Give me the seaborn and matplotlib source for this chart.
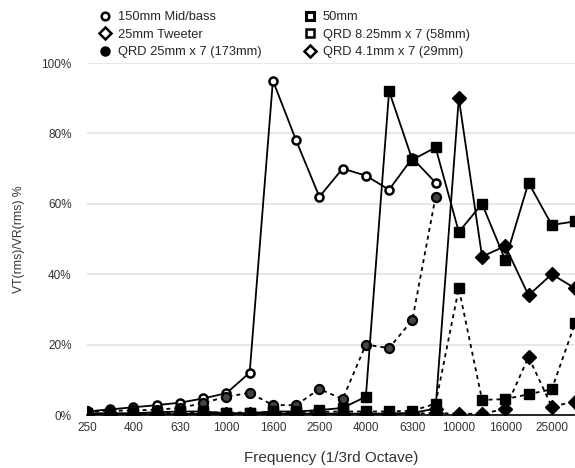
import numpy as np
import pandas as pd
import matplotlib
matplotlib.use("Agg")
import matplotlib.pyplot as plt
import seaborn as sns
from matplotlib.lines import Line2D

nan = np.nan
freqs = ['250', '315', '400', '500', '630', '800', '1000', '1250', '1600', '2000', '2500',
         '3150', '4000', '5000', '6300', '8000', '10000', '12500', '16000', '20000', '25000', '31500']
mid_bass = [1.0, 1.6, 2.2, 2.8, 3.5, 4.7, 6.2, 12, 95, 78, 62, 70, 68, 64, 73, 66,
            nan, nan, nan, nan, nan, nan]
fifty_mm = [0.5, 0.5, 0.5, 0.8, 1.0, 1.0, 0.5, 0.5, 1.0, 1.0, 1.4, 2.0, 5.2, 92, 72.5, 76,
            52, 60, 44, 66, 54, 55]
tweeter = [0.2, 0.2, 0.2, 0.2, 0.3, 0.3, 0.4, 0.4, 0.4, 0.4, 0.4, 0.4, 0.4, 0.4, 0.6, 1.8,
           90, 45, 48, 34, 40, 36]
qrd_25 = [1.0, 1.2, 1.3, 1.5, 2.0, 3.4, 5.2, 6.3, 2.8, 2.8, 7.4, 4.5, 20, 19, 27, 62,
          nan, nan, nan, nan, nan, nan]
qrd_825 = [0.3, 0.3, 0.4, 0.5, 0.6, 0.7, 0.7, 0.7, 0.8, 0.8, 0.9, 1.0, 1.0, 1.0, 1.2, 3.2,
           36, 4.3, 4.5, 5.9, 7.3, 26]
qrd_41 = [0.2, 0.2, 0.2, 0.2, 0.2, 0.3, 0.3, 0.3, 0.3, 0.3, 0.3, 0.3, 0.3, 0.3, 0.4, 0.6,
          0.3, 0.4, 1.7, 16.5, 2.4, 3.8]
tick_labels = ['250', '400', '630', '1000', '1600', '2500', '4000', '6300', '10000', '16000', '25000']

dot = (0, (2.2, 2.2))
# name, values, plot style, legend style
series = [
    ("150mm Mid/bass", mid_bass,
     dict(marker='o', mfc='white', mew=1.8, ms=5.8, ls='-'),
     dict(marker='o', mfc='white', mew=1.8, ms=5.5)),
    ("25mm Tweeter", tweeter,
     dict(marker='D', mfc='black', mew=1, ms=7.5, ls='-'),
     dict(marker='D', mfc='white', mew=1.8, ms=5.8)),
    ("QRD 25mm x 7 (173mm)", qrd_25,
     dict(marker='o', mfc='#444444', mew=1.6, ms=6.5, ls=dot),
     dict(marker='o', mfc='black', mew=1, ms=6.5)),
    ("50mm", fifty_mm,
     dict(marker='s', mfc='black', mew=1, ms=6.8, ls='-'),
     dict(marker='s', mfc='white', mew=2.2, ms=5.8)),
    ("QRD 8.25mm x 7 (58mm)", qrd_825,
     dict(marker='s', mfc='black', mew=1, ms=6.8, ls=dot),
     dict(marker='s', mfc='white', mew=1.8, ms=6.2)),
    ("QRD 4.1mm x 7 (29mm)", qrd_41,
     dict(marker='D', mfc='black', mew=1, ms=7.5, ls=dot),
     dict(marker='D', mfc='white', mew=1.8, ms=5.8)),
]

sns.set_theme(style="white")
plt.rcParams['font.family'] = ['Liberation Sans', 'DejaVu Sans']

fig = plt.figure(figsize=(5.75, 4.68), dpi=100)
ax = fig.add_axes([87 / 575, 1 - 415 / 468, 1 - 87 / 575, (415 - 63) / 468])

x = np.arange(len(freqs))
for name, vals, st, _ in series:
    df = pd.DataFrame({'x': x, 'y': vals}).dropna()
    sns.lineplot(data=df, x='x', y='y', ax=ax, color='black', linewidth=1.3,
                 linestyle=st['ls'], marker=st['marker'], markerfacecolor=st['mfc'],
                 markeredgecolor='black', markeredgewidth=st['mew'], markersize=st['ms'],
                 label=name, legend=False, zorder=3)

ax.set_xlim(0, len(freqs) - 1)
ax.set_ylim(0, 100)
ax.set_yticks([0, 20, 40, 60, 80, 100])
ax.set_yticklabels([f"{v}%" for v in [0, 20, 40, 60, 80, 100]])
ax.set_xticks(x[::2])
ax.set_xticklabels(tick_labels)
ax.tick_params(axis='both', labelsize=8.5, colors='#333333', length=0)
ax.tick_params(axis='y', pad=11)
ax.tick_params(axis='x', pad=5)
ax.yaxis.grid(True, color='#e3e3e3', linewidth=1.2)
ax.xaxis.grid(False)
for s in ['top', 'right', 'left']:
    ax.spines[s].set_visible(False)
ax.spines['bottom'].set_color('black')
ax.spines['bottom'].set_linewidth(1.2)
ax.set_axisbelow(True)

ax.set_xlabel("Frequency (1/3rd Octave)", fontsize=11, color='#333333', labelpad=12)
ax.set_ylabel("VT(rms)/VR(rms) %", fontsize=8.8, color='#333333', labelpad=12)

handles = []
for name, vals, st, lg in series:
    handles.append(Line2D([], [], linestyle='none', marker=lg['marker'], markerfacecolor=lg['mfc'],
                          markeredgecolor='black', markeredgewidth=lg['mew'],
                          markersize=lg['ms'], label=name))
fig.legend(handles=handles, ncol=2, loc='upper left', bbox_to_anchor=(95 / 575, 1 - 6 / 468),
           frameon=False, fontsize=9.3, handlelength=0.8, handletextpad=0.6,
           columnspacing=3.3, labelspacing=0.42, borderaxespad=0)

fig.savefig("out.png", dpi=100)
